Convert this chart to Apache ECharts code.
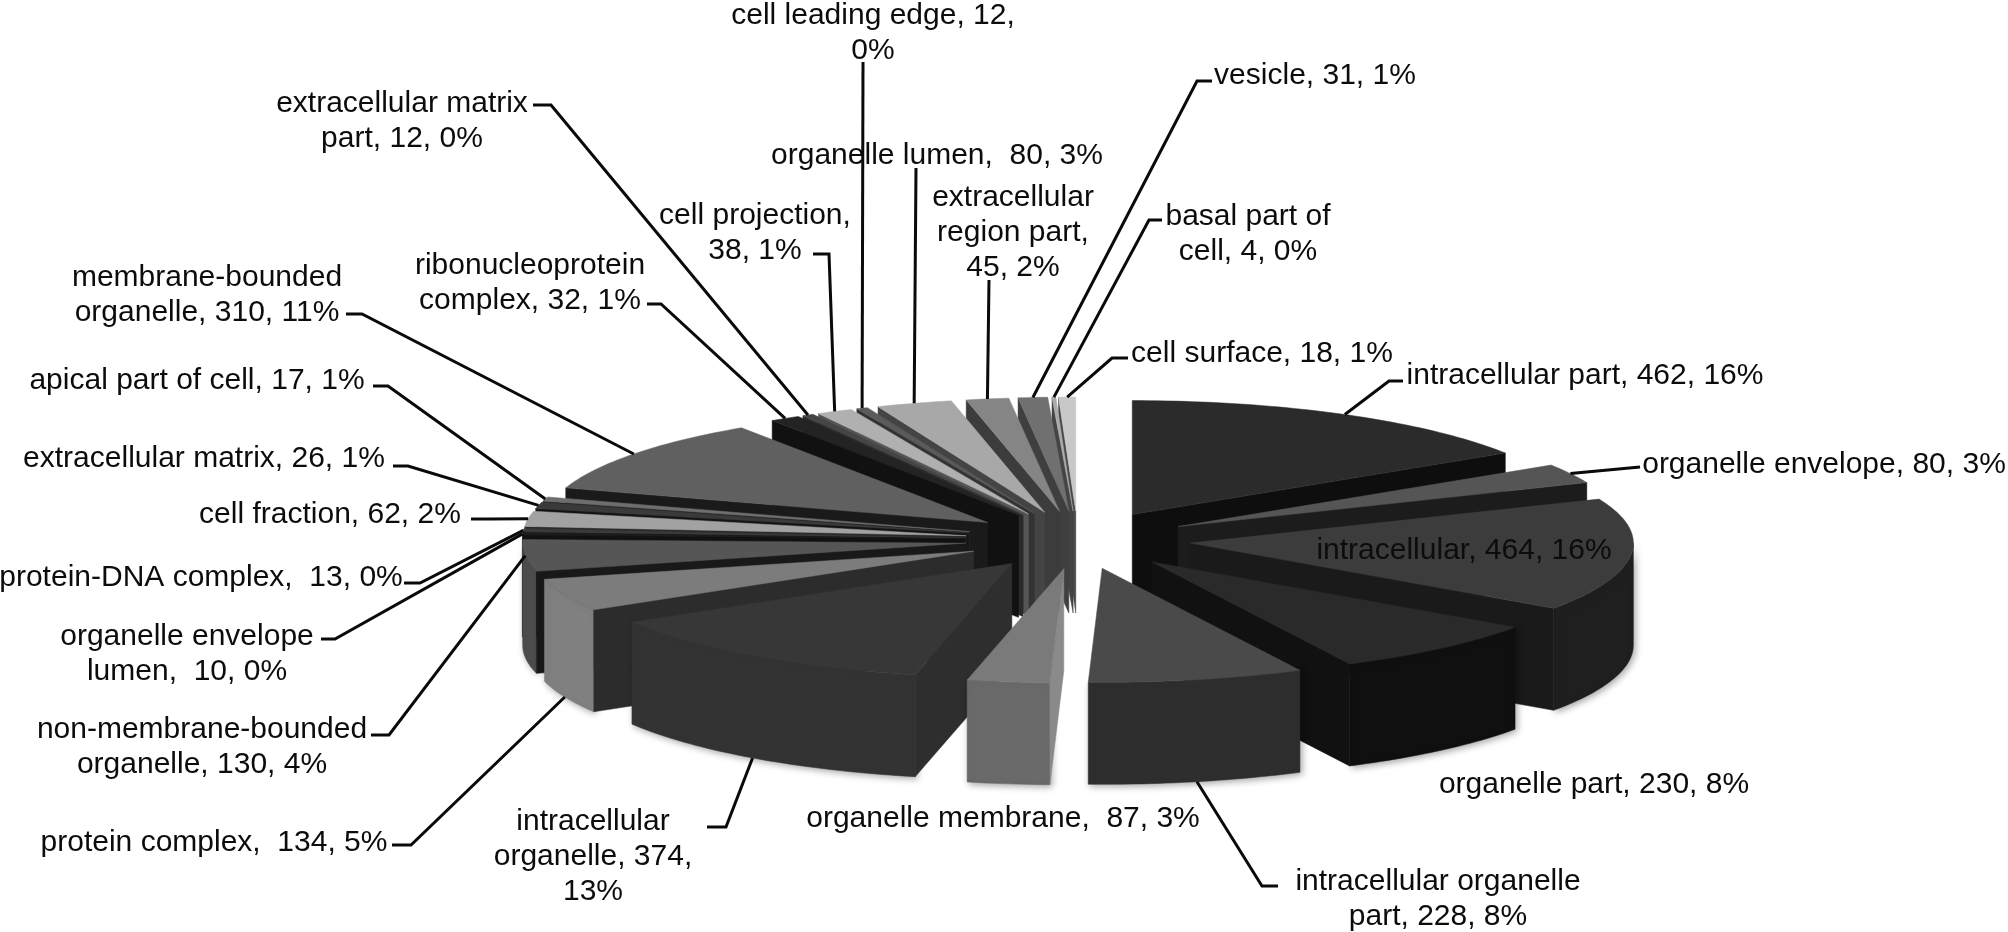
<!DOCTYPE html>
<html>
<head>
<meta charset="utf-8">
<title>Cellular component pie</title>
<script src="https://cdn.jsdelivr.net/npm/echarts@6/dist/echarts.min.js"></script>
<style>
html, body { margin: 0; padding: 0; background: #fff; }
#main { width: 2008px; height: 932px; }
</style>
</head>
<body>
<div id="main"></div>
<script>
// slices, clockwise from 12 o'clock
var names = ['intracellular part', 'organelle envelope', 'intracellular', 'organelle part',
    'intracellular organelle part', 'organelle membrane', 'intracellular organelle', 'protein complex',
    'non-membrane-bounded organelle', 'organelle envelope lumen', 'protein-DNA complex', 'cell fraction',
    'extracellular matrix', 'apical part of cell', 'membrane-bounded organelle', 'ribonucleoprotein complex',
    'extracellular matrix part', 'cell projection', 'cell leading edge', 'organelle lumen',
    'extracellular region part', 'vesicle', 'basal part of cell', 'cell surface'];
var values = [462, 80, 464, 230, 228, 87, 374, 134, 130, 10, 13, 62, 26, 17, 310, 32, 12, 38, 12, 80, 45, 31, 4, 18];
var labels = ['intracellular part, 462, 16%', 'organelle envelope, 80, 3%', 'intracellular, 464, 16%',
    'organelle part, 230, 8%', 'intracellular organelle\npart, 228, 8%', 'organelle membrane,  87, 3%',
    'intracellular\norganelle, 374,\n13%', 'protein complex,  134, 5%', 'non-membrane-bounded\norganelle, 130, 4%',
    'organelle envelope\nlumen,  10, 0%', 'protein-DNA complex,  13, 0%', 'cell fraction, 62, 2%',
    'extracellular matrix, 26, 1%', 'apical part of cell, 17, 1%', 'membrane-bounded\norganelle, 310, 11%',
    'ribonucleoprotein\ncomplex, 32, 1%', 'extracellular matrix\npart, 12, 0%', 'cell projection,\n38, 1%',
    'cell leading edge, 12,\n0%', 'organelle lumen,  80, 3%', 'extracellular\nregion part,\n45, 2%',
    'vesicle, 31, 1%', 'basal part of\ncell, 4, 0%', 'cell surface, 18, 1%'];

// colours per slice: top face, radial wall, outer wall
var topColors = ['#2b2b2b', '#555555', '#3c3c3c', '#2a2a2a', '#4a4a4a', '#7a7a7a', '#373737', '#7c7c7c',
    '#565656', '#1c1c1c', '#3a3a3a', '#a2a2a2', '#3a3a3a', '#6e6e6e', '#606060', '#232323',
    '#454545', '#b0b0b0', '#5a5a5a', '#a8a8a8', '#858585', '#707070', '#ababab', '#c8c8c8'];
var wallColors = ['#0e0e0e', '#1c1c1c', '#1a1a1a', '#111111', '#0e0e0e', '#8a8a8a', '#2e2e2e', '#2c2c2c',
    '#191919', '#111111', '#151515', '#2a2a2a', '#141414', '#222222', '#1a1a1a', '#111111',
    '#2a2a2a', '#555555', '#333333', '#444444', '#3c3c3c', '#3f3f3f', '#444444', '#4a4a4a'];
var rimColors = ['#0e0e0e', '#1c1c1c', '#1f1f1f', '#101010', '#2e2e2e', '#6a6a6a', '#333333', '#808080',
    '#4d4d4d', '#222222', '#333333', '#777777', '#333333', '#444444', '#444444', '#222222',
    '#333333', '#888888', '#444444', '#888888', '#666666', '#555555', '#777777', '#999999'];

// label block centres and the label-side part of each leader (x0, y0, x1, y1), null = no leader
var labelAnchors = [[1585, 376], [1824, 465], [1464, 551], [1594, 785], [1438, 899], [1003, 819],
    [593, 857], [214, 843], [202, 747], [187, 654], [201, 578], [330, 515],
    [204, 459], [197, 381], [207, 295], [530, 283], [402, 121], [755, 233],
    [873, 33], [937, 156], [1013, 233], [1315, 76], [1248, 234], [1262, 354]];
var knees = [[1403, 381, 1389, 381], [1640, 467, 1640, 467], null, null, [1278, 886, 1262, 886], null,
    [707, 827, 726, 827], [392, 845, 411, 845], [371, 735, 389, 735], [321, 639, 335, 639],
    [404, 583, 420, 583], [471, 519, 489, 519], [393, 466, 408, 466], [373, 386, 388, 386],
    [346, 314, 362, 314], [647, 304, 661, 304], [533, 105, 551, 105], [813, 254, 829, 254],
    [863, 62, 863, 62], [916, 168, 916, 168], [989, 280, 989, 280], [1212, 81, 1197, 81],
    [1162, 220, 1149, 220], [1128, 358, 1112, 358]];

// pie geometry
var cx = 1078, cy = 540, rx = 443, ry = 114, depth = 102, explodeX = 113, explodeY = 29;
var fontFamily = '"Liberation Sans", Arial, sans-serif';

var total = values.reduce(function (a, b) { return a + b; }, 0);
var angles = [];
var cum = 0;
values.forEach(function (v) {
    var a0 = echarts.number.linearMap(cum, [0, total], [0, Math.PI * 2]);
    cum += v;
    angles.push([a0, echarts.number.linearMap(cum, [0, total], [0, Math.PI * 2])]);
});

function apex(i) {
    var mid = (angles[i][0] + angles[i][1]) / 2;
    return [cx + explodeX * Math.sin(mid), cy - explodeY * Math.cos(mid)];
}
function rimPoint(i, a, dy) {
    var p = apex(i);
    return [p[0] + rx * Math.sin(a), p[1] - ry * Math.cos(a) + (dy || 0)];
}
function arc(i, from, to, dy) {
    var pts = [];
    var n = Math.max(1, Math.ceil((to - from) / 0.02));
    for (var k = 0; k <= n; k++) {
        pts.push(rimPoint(i, from + (to - from) * k / n, dy));
    }
    return pts;
}
function poly(points, fill, extra) {
    var style = { fill: fill, stroke: fill, lineWidth: 0.5 };
    if (extra) {
        for (var key in extra) style[key] = extra[key];
    }
    return { type: 'polygon', shape: { points: points }, style: style };
}
function radialWall(i, a, color) {
    var p = apex(i), q = rimPoint(i, a);
    return poly([p, q, [q[0], q[1] + depth], [p[0], p[1] + depth]], color);
}

function renderSlice(params, api) {
    var i = api.value(0);
    var a0 = angles[i][0], a1 = angles[i][1];
    var children = [];
    var from = Math.max(a0, Math.PI / 2), to = Math.min(a1, Math.PI * 1.5);
    if (to > from) {
        var rim = arc(i, from, to, 0).concat(arc(i, from, to, depth).reverse());
        children.push(poly(rim, rimColors[i], {
            shadowBlur: 7, shadowColor: 'rgba(0,0,0,0.35)', shadowOffsetX: 2, shadowOffsetY: 2
        }));
    }
    if (Math.sin(a0) < 0) children.push(radialWall(i, a0, wallColors[i]));
    if (Math.sin(a1) > 0) children.push(radialWall(i, a1, wallColors[i]));
    children.push(poly([apex(i)].concat(arc(i, a0, a1, 0)), topColors[i]));
    return { type: 'group', children: children };
}

function renderLeader(params, api) {
    var i = api.value(0);
    var k = knees[i];
    var mid = (angles[i][0] + angles[i][1]) / 2;
    var deg = mid * 180 / Math.PI;
    var end = rimPoint(i, mid, deg > 90 && deg < 255 ? depth : 0);
    return {
        type: 'polyline',
        shape: { points: [[k[0], k[1]], [k[2], k[3]], end] },
        style: { fill: null, stroke: '#0a0a0a', lineWidth: 3 }
    };
}

function renderLabel(params, api) {
    var i = api.value(0);
    return {
        type: 'text',
        style: {
            x: labelAnchors[i][0], y: labelAnchors[i][1], text: labels[i],
            textAlign: 'center', textVerticalAlign: 'middle',
            fontFamily: fontFamily, fontSize: 30, lineHeight: 35, fill: '#0c0c0c'
        }
    };
}

// back to front
var drawOrder = names.map(function (n, i) { return i; }).sort(function (a, b) {
    var ma = (angles[a][0] + angles[a][1]) / 2, mb = (angles[b][0] + angles[b][1]) / 2;
    return Math.cos(mb) - Math.cos(ma);
});
var withLeader = names.map(function (n, i) { return i; }).filter(function (i) { return knees[i]; });

var chart = echarts.init(document.getElementById('main'));
chart.setOption({
    backgroundColor: '#ffffff',
    animation: false,
    series: [
        { type: 'custom', coordinateSystem: 'none', silent: true, clip: false, z: 1,
          data: drawOrder.map(function (i) { return [i]; }), renderItem: renderSlice },
        { type: 'custom', coordinateSystem: 'none', silent: true, clip: false, z: 2,
          data: withLeader.map(function (i) { return [i]; }), renderItem: renderLeader },
        { type: 'custom', coordinateSystem: 'none', silent: true, clip: false, z: 3,
          data: names.map(function (n, i) { return [i]; }), renderItem: renderLabel }
    ]
});
</script>
</body>
</html>
